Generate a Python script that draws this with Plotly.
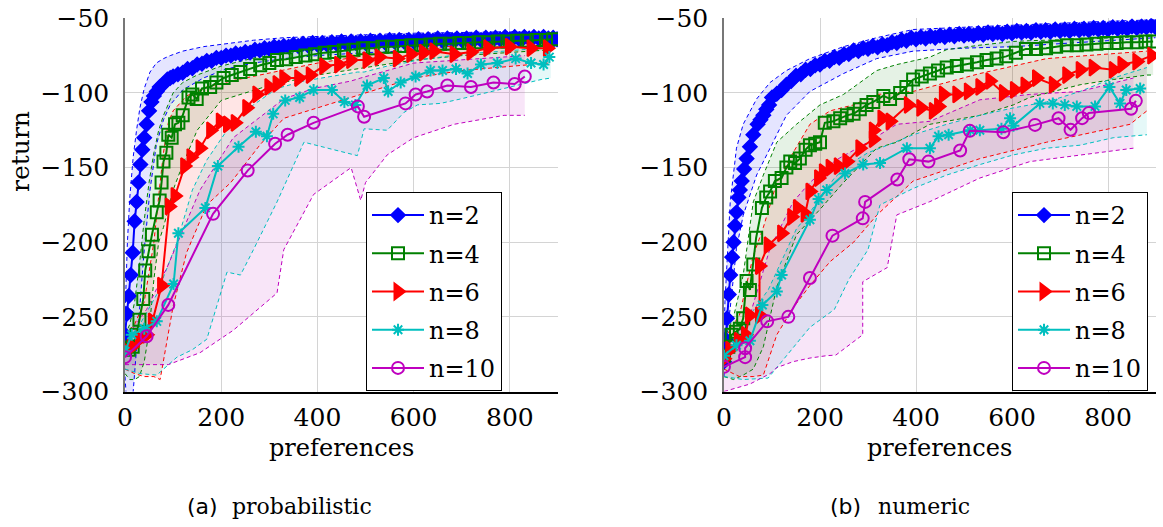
import plotly.graph_objects as go

# ---------------- data: (a) probabilistic ----------------
SERIES = ["n=2", "n=4", "n=6", "n=8", "n=10"]
X_TICKS = [0, 200, 400, 600, 800]
Y_TICKS = [-300, -250, -200, -150, -100, -50]

P2_X = [0, 4, 8, 12, 16, 20, 24, 28, 32, 36, 40, 45, 50, 55, 60, 66, 72, 80, 88, 94,
        100, 110, 120, 130, 140, 150, 160, 170, 180, 190,
        200, 210, 220, 230, 240, 250, 260, 270, 280, 290,
        300, 310, 320, 330, 340, 350, 360, 370, 380, 390,
        400, 410, 420, 430, 440, 450, 460, 470, 480, 490,
        500, 510, 520, 530, 540, 550, 560, 570, 580, 590,
        600, 610, 620, 630, 640, 650, 660, 670, 680, 690,
        700, 710, 720, 730, 740, 750, 760, 770, 780, 790,
        800, 810, 820, 830, 840, 850, 860, 870, 880, 890, 898]
P2_Y = [-262, -248, -236, -222, -207, -186, -173, -160, -148, -138, -130, -121, -112, -106, -102, -99, -96, -94, -91, -90,
        -89, -87.5, -86.5, -84, -83.5, -81, -80.5, -78.5, -78.5, -76.5,
        -76.5, -75, -75, -73.5, -74, -72.5, -73, -71, -71.5, -70,
        -70.5, -69, -69.5, -68.5, -69, -67.5, -68.5, -67, -68, -66.5,
        -67.5, -66.5, -67.5, -66, -67, -65.5, -67, -65.5, -66.5, -65.5,
        -66.5, -65, -66, -65, -66, -64.5, -65.5, -64.5, -65.5, -64.5,
        -65.5, -64, -65, -64, -65, -63.5, -65, -63.5, -64.5, -63.5,
        -64.5, -63.5, -64.5, -63, -64.5, -63, -64, -63, -64, -62.5,
        -64, -62.5, -64, -62.5, -63.5, -62.5, -63.5, -62.5, -63.5, -63, -64]
P2_BX = [0, 5, 10, 17, 24, 31, 40, 52, 65, 80, 94, 120, 163, 210, 267, 330, 400, 500, 600, 700, 800, 900]
P2_HI = [-250, -200, -170, -143, -125, -110, -97, -86, -80, -77, -75, -72, -69, -67, -64.7, -63, -62, -61, -60, -59.5, -59, -60]
P2_LO = [-290, -320, -340, -300, -270, -245, -205, -165, -135, -118, -108, -98, -90, -84, -80, -77, -75, -73, -71.5, -70.5, -69.5, -69]

P4_X = [0, 8, 16, 24, 30, 38, 42, 49, 56, 66,
        72, 76, 80, 86, 90, 97, 104, 111, 120, 132,
        140, 149, 160, 177, 190, 205, 222, 240, 260, 281,
        300, 316, 335, 355, 375, 395, 415, 435, 455, 475,
        495, 515, 535, 555, 575, 595, 615, 635, 655, 675,
        695, 715, 735, 755, 775, 795, 815, 835, 855, 875,
        890]
P4_Y = [-271, -272, -270, -262, -252, -238, -219, -206, -195, -180,
        -172, -160, -146, -140, -128, -130, -121, -120, -115, -103,
        -101, -104, -97, -96, -93, -90, -88, -86, -84, -81.5,
        -80, -78, -77.5, -76, -75, -74, -73, -72.5, -71.5, -71,
        -70, -70, -69, -69, -68.5, -68, -68, -67.5, -67, -67,
        -66.5, -66.5, -66, -66, -65.5, -65.5, -65, -65, -64.5, -64.5,
        -64]
P4_BX = [0, 10, 20, 30, 40, 50, 60, 70, 80, 100, 120, 150, 200, 250, 300, 400, 500, 600, 700, 800, 890]
P4_HI = [-262, -255, -240, -215, -185, -160, -140, -125, -115, -100, -93, -88, -82, -78, -74, -69, -66, -64, -63, -62, -61]
P4_LO = [-288, -292, -292, -290, -280, -260, -225, -200, -190, -165, -148, -125, -105, -100, -95, -88, -83, -78, -75, -73, -71]

P6_X = [0, 14, 30, 45, 57, 76, 92, 104, 124, 137,
        156, 178, 198, 213, 229, 253, 274, 299, 316, 330,
        361, 385, 413, 444, 469, 503, 528, 566, 594, 620,
        642, 684, 719, 754, 799, 844, 878]
P6_Y = [-272, -270, -265, -262, -253, -229, -176, -169, -149, -143,
        -137, -125, -119, -121, -120, -110, -101, -96, -94, -90,
        -90, -88, -82, -81, -78, -78, -76, -77, -74, -73,
        -72, -74, -72.5, -70, -69, -70, -70]
P6_BX = [0, 20, 40, 60, 73, 80, 90, 100, 128, 170, 220, 280, 330, 400, 500, 600, 700, 800, 880]
P6_HI = [-262, -255, -240, -200, -160, -140, -120, -112, -102, -96, -92, -88, -85, -80, -75, -71, -68, -67, -66]
P6_LO = [-285, -288, -290, -290, -292, -279, -260, -243, -207, -175, -160, -135, -117, -110, -100, -90, -85, -82, -80]

P8_X = [0, 14, 40, 66, 101, 111, 167, 193, 236, 272,
        295, 308, 333, 363, 392, 430, 456, 479, 503, 538,
        547, 573, 604, 635, 660, 688, 712, 740, 774, 812,
        844, 870, 882]
P8_Y = [-273, -262, -258, -253, -228, -194, -177, -149, -136, -126,
        -129, -114, -105, -103, -98, -98, -106, -108, -95, -90,
        -99, -93, -89, -85, -85, -84, -87, -81, -80, -77,
        -80, -81, -76]
P8_BX = [0, 31, 66, 108, 140, 170, 212, 240, 267, 316, 372, 448, 483, 497, 545, 580, 608, 656, 698, 788, 865, 885]
P8_HI = [-262, -255, -235, -200, -165, -145, -125, -115, -108, -97, -92, -88, -86, -86, -82, -80, -78, -76, -74, -72, -70, -70]
P8_LO = [-285, -288, -289, -277, -272, -265, -220, -222, -205, -173, -133, -139, -142, -124, -125, -113, -108, -107, -104, -97, -91, -90]

P10_X = [0, 45, 90, 183, 255, 312, 338, 392, 484, 497, 583, 604, 628, 670, 719, 766, 810, 831]
P10_Y = [-277, -263, -242, -181, -152, -134, -128, -120, -109, -116, -107, -101, -99, -95, -96, -93, -94, -89]
P10_BX = [0, 45, 90, 156, 225, 316, 330, 392, 470, 490, 500, 545, 600, 684, 788, 831]
P10_HI = [-265, -245, -215, -165, -130, -108, -104, -97, -92, -90, -89, -85, -80, -78, -76, -75]
P10_LO = [-282, -282, -282, -274, -259, -234, -205, -168, -150, -172, -160, -141.5, -130, -121, -115, -115]

# ---------------- data: (b) numeric ----------------
N2_X = [0, 3, 6, 10, 13, 17, 20, 23, 26, 30, 33, 37, 42, 47, 54, 61, 70, 76, 82, 88, 94,
        100, 110, 120, 130, 140, 150, 160, 170, 180, 190,
        200, 210, 220, 230, 240, 250, 260, 270, 280, 290,
        300, 310, 320, 330, 340, 350, 360, 370, 380, 390,
        400, 410, 420, 430, 440, 450, 460, 470, 480, 490,
        500, 510, 520, 530, 540, 550, 560, 570, 580, 590,
        600, 610, 620, 630, 640, 650, 660, 670, 680, 690,
        700, 710, 720, 730, 740, 750, 760, 770, 780, 790,
        800, 810, 820, 830, 840, 850, 860, 870, 880, 890, 899]
N2_Y = [-280, -265, -251, -235, -222, -210, -200, -189, -180, -170, -165, -159, -151, -144, -136, -128, -121, -118, -115, -111, -108,
        -103, -100.5, -98, -94.5, -92, -88.5, -87.5, -84.5, -84, -81.5,
        -81, -78.5, -78.5, -76, -76.5, -74, -74, -71.5, -72, -70,
        -70.5, -68.5, -69.5, -67.5, -68, -66, -66.5, -64.5, -65, -63,
        -64, -62.5, -63.5, -62, -63, -61.5, -62.5, -61, -62, -60.5,
        -61.5, -60.5, -61.5, -60, -61, -59.5, -60.5, -59.5, -60.5, -59,
        -60, -58.5, -59.5, -58.5, -59.5, -58, -59, -58, -59, -57.5,
        -58.5, -57.5, -58.5, -57, -58, -57, -58, -56.5, -57.5, -56.5,
        -57.5, -56, -57, -56, -57, -55.5, -56.5, -55.5, -56, -55, -56]
N2_BX = [0, 2, 13, 26, 40, 68, 96, 130, 179, 249, 318, 394, 500, 603, 700, 800, 899]
N2_HI = [-265, -240, -173, -137, -121, -104, -93, -85, -77, -69, -63, -57.5, -56, -54.5, -53, -52, -51]
N2_LO = [-290, -271, -244, -204, -182, -155, -137, -115, -99, -87, -77, -72, -70, -69, -67, -65, -63]

N4_X = [0, 9, 16, 25, 33, 40, 47, 54, 61, 67,
        79, 88, 96, 106, 120, 130, 138, 148, 158, 170,
        179, 190, 200, 210, 228, 242, 256, 270, 283, 297,
        311, 332, 346, 367, 380, 394, 412, 429, 446, 464,
        485, 506, 527, 547, 568, 588, 608, 629, 650, 671,
        692, 714, 735, 755, 776, 797, 818, 838, 860, 878,
        894]
N4_Y = [-276, -270, -262, -260, -258, -251, -226, -232, -215, -197,
        -177, -170, -166, -159, -157, -150, -146, -147, -144, -138,
        -135, -134, -133, -120, -119, -117, -115, -114, -111, -108,
        -106, -102, -104, -100, -96, -91, -89, -87, -85, -83,
        -82, -81, -79.5, -78, -77, -75.5, -73, -70.5, -70.5, -70,
        -69, -68, -68, -67.5, -67, -66.5, -66.5, -66, -66, -65.5,
        -65.5]
N4_BX = [0, 20, 40, 61, 82, 110, 151, 200, 249, 318, 360, 429, 464, 533, 603, 637, 742, 811, 881, 894]
N4_HI = [-265, -250, -222, -173, -155, -133, -121, -108, -101, -85, -81, -76, -71, -68, -65.5, -65, -64, -63, -62, -62]
N4_LO = [-290, -292, -289, -285, -270, -230, -195, -178, -160, -137, -133, -121, -119, -115, -108, -103, -94.5, -91, -88, -88]

N6_X = [0, 12, 30, 45, 53, 74, 74, 92, 120, 141,
        153, 169, 179, 197, 207, 221, 238, 256, 283, 311,
        311, 329, 346, 384, 410, 436, 447, 457, 485, 509,
        533, 554, 582, 605, 627, 651, 686, 714, 742, 769,
        811, 829, 860, 891]
N6_Y = [-278, -272, -266, -262, -249, -249, -216, -202, -194, -183,
        -177, -181, -166, -157, -153, -150, -149, -146, -137, -131,
        -125, -117, -119, -108, -110, -112, -109, -101, -101, -99,
        -96, -92, -100, -98, -95, -90, -94.5, -88, -84.5, -83,
        -84.5, -81, -79, -75]
N6_BX = [0, 32, 61, 82, 110, 144, 179, 221, 270, 318, 394, 533, 672, 846, 881]
N6_HI = [-265, -249, -209, -190, -160, -140, -121, -112, -108, -101, -99, -87, -77, -73, -72]
N6_LO = [-285, -290, -290, -289, -262, -244, -229, -213, -200, -182, -159, -144, -133, -121, -112]

N8_X = [0, 26, 54, 80, 110, 120, 179, 197, 214, 252,
        290, 325, 381, 429, 447, 468, 513, 533, 578, 596,
        603, 658, 685, 710, 735, 773, 803, 825, 838, 867]
N8_Y = [-276, -269, -266, -242, -233, -222, -185, -171, -165, -154,
        -148, -147, -137, -137, -129, -128, -125, -125, -124, -117,
        -122, -107, -107, -108, -109, -109, -96, -107, -98, -97]
N8_BX = [0, 40, 92, 151, 179, 230, 260, 300, 325, 394, 464, 533, 603, 672, 742, 811, 881]
N8_HI = [-268, -255, -232, -191, -180, -157, -148, -140, -137, -128, -121, -115, -110, -106, -99, -90, -83]
N8_LO = [-290, -292, -291, -268, -257, -245, -225, -205, -175, -164, -155, -148, -141.5, -137, -135, -130, -128]

N10_X = [0, 44, 44, 90, 134, 179, 226, 289, 294, 361, 386, 426, 492, 512, 582, 648, 697, 722, 746, 760, 848, 858]
N10_Y = [-283.5, -277, -271, -253, -250, -224, -195.6, -184, -173, -158, -144.4, -146, -138.6, -125.4, -126.3,
         -121.4, -116.9, -124.7, -116.9, -113.5, -110.6, -105.3]
N10_BX = [0, 54, 96, 110, 144, 179, 214, 233, 289, 289, 340, 360, 429, 533, 637, 742, 853]
N10_HI = [-275, -249, -204, -195, -173, -160, -150, -145, -135, -135, -125, -121, -119, -104.6, -101, -99, -90]
N10_LO = [-300, -295, -288, -284, -280, -277.6, -276, -275.6, -262, -226.5, -217, -181.7, -172.8, -157, -146, -141.5, -137]

PANEL_A = [(P2_X, P2_Y, P2_BX, P2_HI, P2_LO), (P4_X, P4_Y, P4_BX, P4_HI, P4_LO),
           (P6_X, P6_Y, P6_BX, P6_HI, P6_LO), (P8_X, P8_Y, P8_BX, P8_HI, P8_LO),
           (P10_X, P10_Y, P10_BX, P10_HI, P10_LO)]
PANEL_B = [(N2_X, N2_Y, N2_BX, N2_HI, N2_LO), (N4_X, N4_Y, N4_BX, N4_HI, N4_LO),
           (N6_X, N6_Y, N6_BX, N6_HI, N6_LO), (N8_X, N8_Y, N8_BX, N8_HI, N8_LO),
           (N10_X, N10_Y, N10_BX, N10_HI, N10_LO)]

# ---------------- styles ----------------
COLORS = ["#0000ff", "#008000", "#ff0000", "#00bfbf", "#bf00bf"]
FILLS = ["rgba(0,0,255,0.10)", "rgba(0,128,0,0.10)", "rgba(255,0,0,0.10)",
         "rgba(0,191,191,0.10)", "rgba(191,0,191,0.10)"]
MARKERS = [dict(symbol="diamond", size=11),
           dict(symbol="square-open", size=12),
           dict(symbol="triangle-right", size=14),
           dict(symbol="asterisk-open", size=10),
           dict(symbol="circle-open", size=12)]
SERIF = "DejaVu Serif"
SANS = "DejaVu Sans"
W, H = 1163, 527

fig = go.Figure()


def add_panel(data, xa, ya, legend):
    for i, (x, y, bx, hi, lo) in enumerate(data):
        fig.add_trace(go.Scatter(x=list(bx) + list(bx)[::-1], y=list(hi) + list(lo)[::-1],
                                 fill="toself", fillcolor=FILLS[i], mode="lines",
                                 line=dict(width=0), hoverinfo="skip", showlegend=False,
                                 xaxis=xa, yaxis=ya))
    for i, (x, y, bx, hi, lo) in enumerate(data):
        for b in (hi, lo):
            fig.add_trace(go.Scatter(x=bx, y=b, mode="lines",
                                     line=dict(color=COLORS[i], width=1, dash="4px,3px"),
                                     hoverinfo="skip", showlegend=False, xaxis=xa, yaxis=ya))
    for i, (x, y, bx, hi, lo) in enumerate(data):
        m = dict(MARKERS[i])
        m["color"] = COLORS[i]
        m["line"] = dict(color=COLORS[i], width=2 if i > 0 else 1.5)
        fig.add_trace(go.Scatter(x=x, y=y, mode="lines+markers", name=SERIES[i],
                                 line=dict(color=COLORS[i], width=2), marker=m,
                                 legend=legend, legendgroup=legend + SERIES[i],
                                 xaxis=xa, yaxis=ya))


add_panel(PANEL_A, "x", "y", "legend")
add_panel(PANEL_B, "x2", "y2", "legend2")

ydom = [1 - 391.5 / H, 1 - 18.3 / H]
axis_common = dict(showgrid=True, gridcolor="#d4d4d4", gridwidth=1, zeroline=False, automargin=False,
                   ticks="", tickfont=dict(family=SERIF, size=25, color="black"))
xcommon = dict(axis_common, range=[0, 900], tickvals=X_TICKS, showline=True,
               linecolor="black", linewidth=1.5, ticklabelstandoff=3)
ycommon = dict(axis_common, range=[-300, -50], tickvals=Y_TICKS, showline=True,
               linecolor="#777777", linewidth=1.5, ticklabelstandoff=9)

leg_common = dict(font=dict(family=SERIF, size=24, color="black"), bgcolor="white",
                  bordercolor="black", borderwidth=1, itemwidth=52, tracegroupgap=4,
                  xanchor="left", yanchor="top")

fig.update_layout(
    template="none",
    width=W, height=H, margin=dict(l=0, r=0, t=0, b=0, pad=0, autoexpand=False),
    paper_bgcolor="white", plot_bgcolor="white",
    font=dict(family=SERIF, color="black"),
    xaxis=dict(xcommon, domain=[125 / W, 558 / W], anchor="y"),
    yaxis=dict(ycommon, domain=ydom, anchor="x"),
    xaxis2=dict(xcommon, domain=[724 / W, 1156 / W], anchor="y2"),
    yaxis2=dict(ycommon, domain=ydom, anchor="x2"),
    legend=dict(leg_common, x=366 / W, y=1 - 192 / H),
    legend2=dict(leg_common, x=1012 / W, y=1 - 192 / H),
    showlegend=True,
)

ann_font = dict(family=SERIF, size=25, color="black")
fig.add_annotation(text="return", x=20 / W, y=1 - 152 / H, xref="paper", yref="paper",
                   textangle=-90, showarrow=False, font=ann_font, xanchor="center", yanchor="middle")
for cx in ((125 + 558) / 2, (724 + 1156) / 2):
    fig.add_annotation(text="preferences", x=cx / W, y=1 - 448 / H, xref="paper", yref="paper",
                       showarrow=False, font=dict(family=SERIF, size=24, color="black"),
                       xanchor="center", yanchor="middle")
# captions: label in sans, word in serif
for lab, word, left, wl in (("(a)", "probabilistic", 185, 230), ("(b)", "numeric", 828, 876)):
    fig.add_annotation(text=lab, x=left / W, y=1 - 506 / H, xref="paper", yref="paper",
                       showarrow=False, font=dict(family=SANS, size=22, color="black"),
                       xanchor="left", yanchor="middle")
    fig.add_annotation(text=word, x=wl / W, y=1 - 506 / H, xref="paper", yref="paper",
                       showarrow=False, font=dict(family=SERIF, size=22, color="black"),
                       xanchor="left", yanchor="middle")

fig.write_html("out.html")
